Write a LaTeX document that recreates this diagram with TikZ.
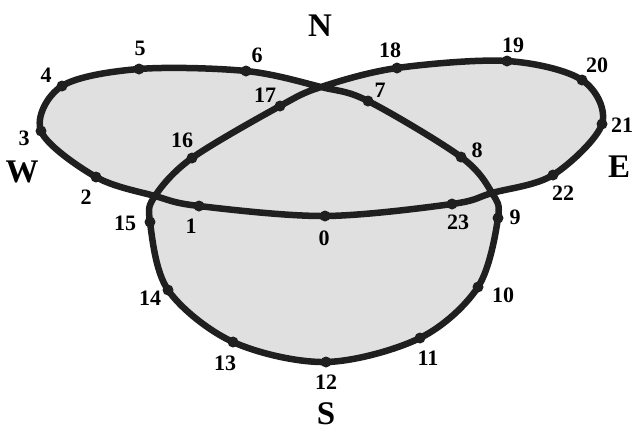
\documentclass[tikz,border=0pt]{standalone}
\usepackage{fontspec}
\setmainfont{Liberation Serif}
\begin{document}
\begin{tikzpicture}[x=1pt,y=-1pt,
  curve/.style={line width=6.5pt,draw=black!88,fill=black!12,line join=round},
  dot/.style={circle,fill=black!88,inner sep=0pt,minimum size=11pt},
  num/.style={font=\fontsize{22}{22}\selectfont\bfseries,inner sep=0pt},
  dir/.style={font=\fontsize{33}{33}\selectfont\bfseries,inner sep=0pt}]
\useasboundingbox (0,0) rectangle (634,432);
\coordinate (p0) at (325,216);
\coordinate (p1) at (199,206);
\coordinate (cW) at (155,196);
\coordinate (p2) at (96,177);
\coordinate (p3) at (41,131);
\coordinate (p4) at (62,86);
\coordinate (p5) at (139,69);
\coordinate (p6) at (246,71);
\coordinate (cN) at (321,87);
\coordinate (p7) at (368,101);
\coordinate (p8) at (461,157);
\coordinate (cE) at (492,193);
\coordinate (p9) at (498,218);
\coordinate (p10) at (478,287);
\coordinate (p11) at (420,338);
\coordinate (p12) at (326,362);
\coordinate (p13) at (233,342);
\coordinate (p14) at (168,290);
\coordinate (p15) at (150,222);
\coordinate (p16) at (192,158);
\coordinate (p17) at (280,106);
\coordinate (p18) at (397,68);
\coordinate (p19) at (507,61);
\coordinate (p20) at (582,80);
\coordinate (p21) at (602,124);
\coordinate (p22) at (553,175);
\coordinate (p23) at (452,204);
\draw[curve] plot[smooth cycle,tension=0.55] coordinates {(p0) (p1) (cW) (p2) (p3) (p4) (p5) (p6) (cN) (p7) (p8) (cE) (p9) (p10) (p11) (p12) (p13) (p14) (p15) (cW) (p16) (p17) (cN) (p18) (p19) (p20) (p21) (p22) (cE) (p23)};
\foreach \i in {0,...,23} {\node[dot] (d\i) at (p\i) {};}
\node[num] (l0) at (324,238) {0};
\node[num] (l1) at (191,226) {1};
\node[num] (l2) at (86,197) {2};
\node[num] (l3) at (24,138) {3};
\node[num] (l4) at (46,75) {4};
\node[num] (l5) at (140,48) {5};
\node[num] (l6) at (257,55) {6};
\node[num] (l7) at (380,90) {7};
\node[num] (l8) at (477,150) {8};
\node[num] (l9) at (515,217) {9};
\node[num] (l10) at (503,295) {10};
\node[num] (l11) at (428,358) {11};
\node[num] (l12) at (326,382) {12};
\node[num] (l13) at (225,363) {13};
\node[num] (l14) at (150,298) {14};
\node[num] (l15) at (125,223) {15};
\node[num] (l16) at (182,140) {16};
\node[num] (l17) at (265,95) {17};
\node[num] (l18) at (390,50) {18};
\node[num] (l19) at (513,45) {19};
\node[num] (l20) at (597,65) {20};
\node[num] (l21) at (622,125) {21};
\node[num] (l22) at (563,193) {22};
\node[num] (l23) at (458,222) {23};
\node[dir] (N) at (320,26) {N};
\node[dir] (S) at (326,414) {S};
\node[dir] (W) at (22,172) {W};
\node[dir] (E) at (619,167) {E};
\end{tikzpicture}
\end{document}
